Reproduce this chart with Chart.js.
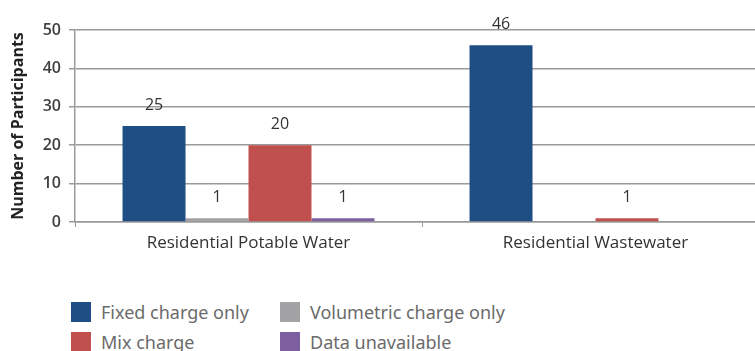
<!DOCTYPE html>
<html>
<head>
<meta charset="utf-8">
<script src="https://cdn.jsdelivr.net/npm/chart.js@4"></script>
<style>
  html, body { margin: 0; padding: 0; background: #fff; overflow: hidden; }
  body { width: 755px; height: 351px; position: relative; }
  #wrap { position: absolute; left: 0; top: 0; width: 790px; height: 270px; }
  .legend { position: absolute; left: 71px; top: 302px; display: grid;
    grid-template-columns: 209px 240px; row-gap: 10px;
    font-family: "Noto Sans", sans-serif; font-size: 18px; color: #6b6b6b; }
  .legend div { display: flex; align-items: center; height: 20px; white-space: nowrap; }
  .legend span { display: inline-block; width: 20px; height: 20px; margin-right: 10px; flex: none; }
</style>
</head>
<body>
<div id="wrap"><canvas id="chart"></canvas></div>
<div class="legend" id="legend"></div>
<script>
const categories = ["Residential Potable Water", "Residential Wastewater"];
const seriesNames = ["Fixed charge only", "Volumetric charge only", "Mix charge", "Data unavailable"];
const fixedOnly = [25, 46];
const volumetricOnly = [1, 0];
const mixCharge = [20, 1];
const dataUnavailable = [1, 0];
const yTicks = [0, 10, 20, 30, 40, 50];

const colors = ["#1f4e85", "#a3a3a5", "#c0504d", "#7d5fa0"];
const values = [fixedOnly, volumetricOnly, mixCharge, dataUnavailable];

// legend, laid out 2x2 like the original
document.getElementById("legend").innerHTML = seriesNames
  .map((name, i) => `<div><span style="background:${colors[i]}"></span>${name}</div>`)
  .join("");

// value labels above the bars
const barLabels = {
  id: "barLabels",
  afterDatasetsDraw(chart) {
    const ctx = chart.ctx;
    ctx.save();
    ctx.font = "16px 'Open Sans', sans-serif";
    ctx.fillStyle = "#333";
    ctx.textAlign = "center";
    ctx.textBaseline = "bottom";
    chart.data.datasets.forEach((ds, i) => {
      chart.getDatasetMeta(i).data.forEach((bar, j) => {
        if (!ds.data[j]) return;
        ctx.fillText(ds.data[j], bar.x, bar.y - 13);
      });
    });
    ctx.restore();
  },
};

new Chart(document.getElementById("chart"), {
  type: "bar",
  data: {
    labels: categories,
    datasets: values.map((d, i) => ({
      label: seriesNames[i],
      data: d,
      backgroundColor: colors[i],
      categoryPercentage: 0.726,
      barPercentage: 1,
    })),
  },
  options: {
    responsive: true,
    maintainAspectRatio: false,
    animation: false,
    layout: { padding: { top: 30, right: 21, left: 0, bottom: 0 } },
    plugins: { legend: { display: false }, tooltip: { enabled: false } },
    scales: {
      x: {
        afterFit: (s) => { s.height = 48; },
        grid: { drawOnChartArea: false, drawTicks: true, tickLength: 5, color: "#999" },
        border: { display: true, color: "#999", width: 1.5 },
        ticks: { color: "#333", font: { family: "'Open Sans', sans-serif", size: 17 }, padding: 6 },
      },
      y: {
        min: 0,
        max: 50,
        afterFit: (s) => { s.width = 75; },
        afterBuildTicks: (s) => { s.ticks = yTicks.map((v) => ({ value: v })); },
        grid: { color: "#9a9a9a", lineWidth: 1.5, tickLength: 6 },
        border: { display: true, color: "#9a9a9a", width: 1.5 },
        title: {
          display: true,
          text: "Number of Participants",
          color: "#222",
          font: { family: "'Open Sans', sans-serif", size: 16, weight: "bold" },
          padding: { top: 9, bottom: 0 },
        },
        ticks: { color: "#404040", font: { family: "'Open Sans', sans-serif", size: 16, weight: "600" }, padding: 8 },
      },
    },
  },
  plugins: [barLabels],
});
</script>
</body>
</html>
